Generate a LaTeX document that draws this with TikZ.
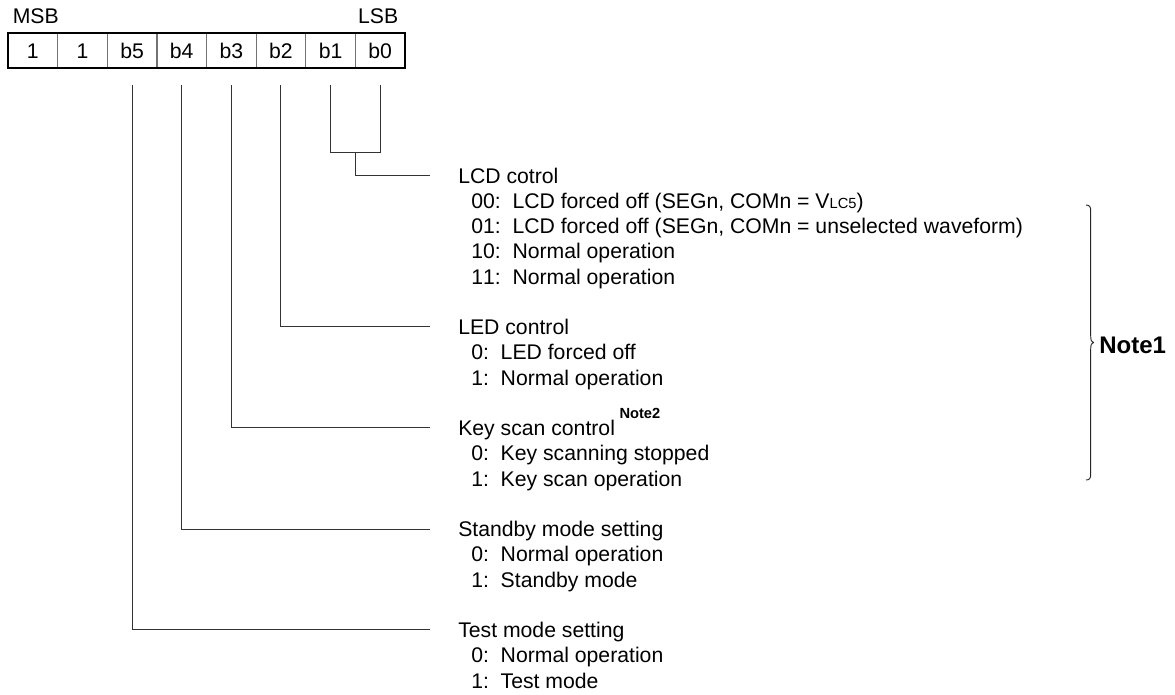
\documentclass[tikz,border=0pt]{standalone}
\usepackage{fontspec}
\setmainfont{Liberation Sans}
\usetikzlibrary{calc}
\newcommand{\fsmain}{\fontsize{15.9}{18}\selectfont}
\newcommand{\fssmall}{\fontsize{11}{12}\selectfont}
\begin{document}
\begin{tikzpicture}[x=0.75pt,y=-0.75pt,
  lbl/.style={anchor=base west, inner sep=0pt, font=\fsmain},
  cell/.style={draw=black!55, line width=0.6pt, minimum width=37.22pt, minimum height=26.25pt, inner sep=0pt, text height=11.4pt, text depth=0pt, font=\fsmain},
  wire/.style={draw=black!80, line width=0.75pt},
  brc/.style={draw=black!85, line width=0.7pt}]
\useasboundingbox (0,0) rectangle (1175,694);

% register
\node[cell] (c7) at (32.8,50.5) {1};
\node[cell] (c6) at (82.4,50.5) {1};
\node[cell] (c5) at (132.1,50.5) {b5};
\node[cell] (c4) at (181.7,50.5) {b4};
\node[cell] (c3) at (231.3,50.5) {b3};
\node[cell] (c2) at (280.9,50.5) {b2};
\node[cell] (c1) at (330.6,50.5) {b1};
\node[cell] (c0) at (380.2,50.5) {b0};
\draw[line width=1.6pt] (c7.north west) rectangle (c0.south east);
\node[lbl] (msb) at (12.5,23) {MSB};
\node[lbl, anchor=base east] (lsb) at (398.5,23) {LSB};

% texts
\node[lbl] (lcd) at (458,183) {LCD cotrol};
\node[lbl] (lcd0) at (471,208.25) {00:~~LCD forced off (SEGn, COMn = V{\fssmall LC5})};
\node[lbl] (lcd1) at (471,233.5) {01:~~LCD forced off (SEGn, COMn = unselected waveform)};
\node[lbl] (lcd2) at (471,258.75) {10:~~Normal operation};
\node[lbl] (lcd3) at (471,284) {1\kern0pt 1:~~Normal operation};

\node[lbl] (led) at (458,334.5) {LED control};
\node[lbl] (led0) at (471,359.75) {0:~~LED forced off};
\node[lbl] (led1) at (471,385) {1:~~Normal operation};

\node[lbl] (key) at (458,435.5) {Key scan control};
\node[lbl, font=\bfseries\fssmall] (note2) at ($(key.base east)+(4,-17)$) {Note2};
\node[lbl] (key0) at (471,460.75) {0:~~Key scanning stopped};
\node[lbl] (key1) at (471,486) {1:~~Key scan operation};

\node[lbl] (stb) at (458,536.5) {Standby mode setting};
\node[lbl] (stb0) at (471,561.75) {0:~~Normal operation};
\node[lbl] (stb1) at (471,587) {1:~~Standby mode};

\node[lbl] (tst) at (458,637.5) {Test mode setting};
\node[lbl] (tst0) at (471,662.75) {0:~~Normal operation};
\node[lbl] (tst1) at (471,688) {1:~~Test mode};

% line end points
\coordinate (eL) at ($(lcd.base west)+(-28,-8)$);
\coordinate (eD) at ($(led.base west)+(-28,-8.5)$);
\coordinate (eK) at ($(key.base west)+(-28,-8.5)$);
\coordinate (eS) at ($(stb.base west)+(-28,-7.5)$);
\coordinate (eT) at ($(tst.base west)+(-28,-8.5)$);

% connectors
\coordinate (s1) at ($(c1.south)+(0,17)$);
\coordinate (s0) at ($(c0.south)+(0,17)$);
\coordinate (j1) at ($(c1.south)+(0,84)$);
\coordinate (j0) at ($(c0.south)+(0,84)$);
\coordinate (jm) at ($(j1)!0.5!(j0)$);
\draw[wire] (s1) -- (j1) -- (j0) -- (s0);
\draw[wire] (jm) |- (eL);
\draw[wire] ($(c2.south)+(0,17)$) |- (eD);
\draw[wire] ($(c3.south)+(0,17)$) |- (eK);
\draw[wire] ($(c4.south)+(0,17)$) |- (eS);
\draw[wire] ($(c5.south)+(0,17)$) |- (eT);

% brace
\coordinate (bt) at (1086,205);
\coordinate (bb) at (1086,480);
\coordinate (tip) at (1093.5,342.5);
\draw[brc] (bt) .. controls (1090,205) and (1090.7,207) .. (1090.7,212)
  -- (1090.7,336) .. controls (1090.7,340) and (1091.5,342.5) .. (tip)
  .. controls (1091.5,342.5) and (1090.7,345) .. (1090.7,349)
  -- (1090.7,473) .. controls (1090.7,478) and (1090,480) .. (bb);
\node[lbl, font=\bfseries\fontsize{18}{20}\selectfont] (note1) at (1099,353) {Note1};
\end{tikzpicture}
\end{document}
